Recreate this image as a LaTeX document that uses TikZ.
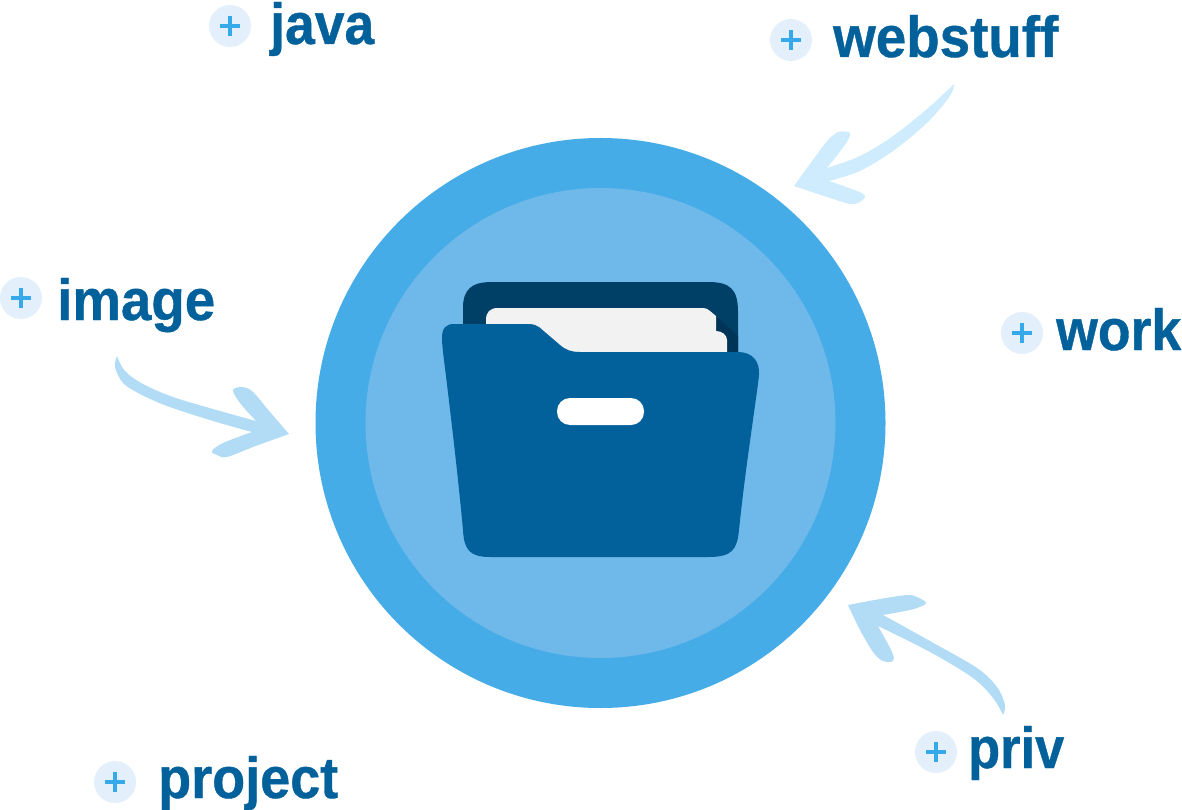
\documentclass[tikz,border=0pt]{standalone}
\usepackage{fontspec}
\setmainfont{Liberation Sans}
\newfontfamily\labfont{Liberation Sans Bold}[FakeBold=0.7]
\definecolor{outerblue}{HTML}{45ACE8}
\definecolor{innerblue}{HTML}{6EB8EA}
\definecolor{folderblue}{HTML}{02609A}
\definecolor{folderback}{HTML}{003F66}
\definecolor{foldershade}{HTML}{003557}
\definecolor{paper}{HTML}{F2F2F2}
\definecolor{arrowpale}{HTML}{CFECFE}
\definecolor{arrowmid}{HTML}{B2DCF5}
\definecolor{badge}{HTML}{E3EFFB}
\definecolor{plus}{HTML}{36A9EB}
\tikzset{
  x=1pt,y=-1pt,
  badgedot/.style={circle,fill=badge,draw=none,minimum size=42pt,inner sep=0pt},
  pluslines/.style={draw=plus,line width=3.4pt},
  lab/.style={anchor=base west,inner sep=0pt,text=folderblue,font=\fontsize{58pt}{58pt}\labfont},
  sm/.style={smooth,tension=.55}
}
\newcommand{\badgeat}[3]{%
  \node[badgedot] (#1) at (#2,#3) {};
  \draw[pluslines] ([xshift=-10pt]#1.center) -- ([xshift=10pt]#1.center);
  \draw[pluslines] ([yshift=-10pt]#1.center) -- ([yshift=10pt]#1.center);
}
\begin{document}
\begin{tikzpicture}
\useasboundingbox (0,0) rectangle (1182,810);
% circles
\fill[outerblue] (600.5,423) circle (285);
\fill[innerblue] (600.5,423) circle (235);
% folder back
\fill[folderback] (463,353) -- (463,308) .. controls (463,289) and (472,282) .. (492,282)
  -- (708,282) .. controls (730,282) and (738,289) .. (738,312) -- (738,353) -- cycle;
% shade
\fill[foldershade] (716,316) -- (738,336) -- (738,353) -- (727,353) -- (727,340)
  .. controls (727,335) and (722,331) .. (716,331) -- cycle;
% paper
\fill[paper] (486,353) -- (486,320) .. controls (486,312) and (490,308) .. (498,308)
  -- (703,308) .. controls (706,308) and (708,309) .. (710,311) -- (716,316) -- (716,331) .. controls (722,331) and (727,335) .. (727,340)
  -- (727,353) -- cycle;
% folder front
\fill[folderblue] (442,338) .. controls (442,328) and (446,324) .. (454,324)
  -- (528,324) .. controls (533,324) and (536,325) .. (539,327)
  -- (560,345) .. controls (566,350) and (571,352) .. (580,352)
  -- (738,352) .. controls (752,352) and (760,361) .. (759,375)
  .. controls (757,395) and (745,470) .. (739,530) .. controls (737,550) and (732,557) .. (708,557)
  -- (490,557) .. controls (470,557) and (464,550) .. (463,530)
  .. controls (458,475) and (449,400) .. (443,352) .. controls (442.5,347) and (442,342) .. (442,338) -- cycle;
% pill
\fill[white,rounded corners=13pt] (557,398) rectangle (644,425);
% arrows
\fill[arrowpale] plot[sm] coordinates {(954,84) (927,109) (893,136) (860,156) (827,168)}
  -- plot[sm] coordinates {(827,168) (845,145) (850,135) (848,132) (838,132) (828,140) (815,157) (794,186)}
  -- plot[sm] coordinates {(794,186) (827,197) (850,204) (860,202) (865,196) (857,191) (829,181)}
  -- plot[sm] coordinates {(829,181) (860,171) (893,151) (927,123) (950,96) (954,84)} -- cycle;
\fill[arrowmid] plot[sm] coordinates {(117,356) (125,371) (143,384) (173,397) (213,409) (256,421)}
  -- plot[sm] coordinates {(256,421) (240,403) (233,390) (243,387) (253,392) (270,412) (289,434)}
  -- plot[sm] coordinates {(289,434) (253,447) (227,457) (217,455) (212,451) (223,443) (252,432)}
  -- plot[sm] coordinates {(252,432) (213,421) (167,406) (140,394) (123,383) (115,367) (117,356)} -- cycle;
\fill[arrowmid] plot[sm] coordinates {(1003,715) (1005,705) (997,687) (977,668) (930,641) (883,615)}
  -- plot[sm] coordinates {(883,615) (905,611) (917,608) (926,603) (917,597) (907,595) (880,599) (848,605)}
  -- plot[sm] coordinates {(848,605) (860,630) (873,652) (883,661) (893,661) (892,652) (878,626)}
  -- plot[sm] coordinates {(878,626) (930,652) (973,678) (993,698) (1003,715)} -- cycle;
% badges
\badgeat{bjava}{230}{26}
\badgeat{bweb}{791}{40}
\badgeat{bimage}{21}{298}
\badgeat{bwork}{1022}{333}
\badgeat{bpriv}{936}{752}
\badgeat{bproject}{115}{782}
% labels
\node[lab] (tjava) at (270,44) {\resizebox{104pt}{\height}{java}};
\node[lab] (tweb) at (833,57) {\resizebox{225pt}{\height}{webstuff}};
\node[lab] (timage) at (57,320) {\resizebox{158pt}{\height}{image}};
\node[lab] (twork) at (1056,350) {\resizebox{125pt}{\height}{work}};
\node[lab] (tpriv) at (968,768) {\resizebox{96pt}{\height}{priv}};
\node[lab] (tproject) at (158,798) {\resizebox{180pt}{\height}{project}};
\end{tikzpicture}
\end{document}
